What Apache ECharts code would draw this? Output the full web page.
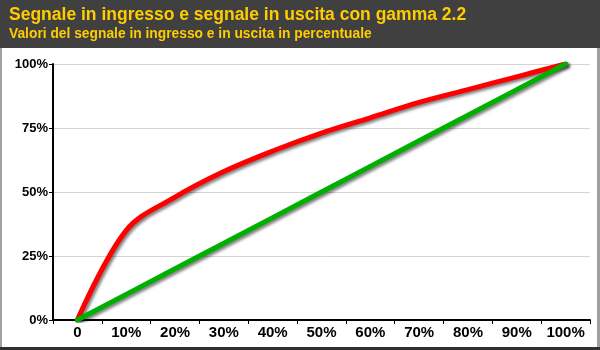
<!DOCTYPE html>
<html>
<head>
<meta charset="utf-8">
<style>
  html, body { margin: 0; padding: 0; background: #ffffff; }
  #chart { width: 600px; height: 350px; }
</style>
<script src="https://cdn.jsdelivr.net/npm/echarts@6/dist/echarts.min.js"></script>
</head>
<body>
<div id="chart"></div>
<script>
// Input signal steps (x axis) and output values in percent
const inputLabels = ['0', '10%', '20%', '30%', '40%', '50%', '60%', '70%', '80%', '90%', '100%'];
const gammaOutput = [0, 35, 48, 58, 66, 73, 79, 85, 90, 95, 100];
const linearOutput = [0, 10, 20, 30, 40, 50, 60, 70, 80, 90, 100];
const yTickValues = [0, 25, 50, 75, 100];

const FONT = '"Liberation Sans", Arial, sans-serif';

const chart = echarts.init(document.getElementById('chart'), null, { renderer: 'canvas' });

const lineShadow = {
  shadowColor: 'rgba(0,0,0,0.5)',
  shadowBlur: 3,
  shadowOffsetX: 2,
  shadowOffsetY: 2
};

chart.setOption({
  backgroundColor: '#ffffff',
  animation: false,
  title: {
    text: 'Segnale in ingresso e segnale in uscita con gamma 2.2',
    subtext: 'Valori del segnale in ingresso e in uscita in percentuale',
    left: 9,
    top: 6,
    padding: 0,
    itemGap: 3,
    textStyle: { color: '#ffcc00', fontFamily: FONT, fontWeight: 'bold', fontSize: 17.5 },
    subtextStyle: { color: '#ffcc00', fontFamily: FONT, fontWeight: 'bold', fontSize: 13.8 }
  },
  graphic: [
    // header band
    { type: 'rect', z: -10, shape: { x: 0, y: 0, width: 600, height: 48 }, style: { fill: '#404040' } },
    // frame around the plot panel
    { type: 'rect', z: -10, shape: { x: 0, y: 48, width: 2, height: 302 }, style: { fill: '#a0a0a0' } },
    { type: 'rect', z: -10, shape: { x: 597, y: 48, width: 3, height: 302 }, style: { fill: '#a0a0a0' } },
    { type: 'rect', z: -10, shape: { x: 0, y: 347, width: 600, height: 3 }, style: { fill: '#303030' } }
  ],
  grid: { left: 53, right: 10, top: 64, bottom: 30, containLabel: false },
  xAxis: {
    type: 'category',
    data: inputLabels,
    boundaryGap: true,
    axisLine: { show: true, lineStyle: { color: '#000000', width: 2 } },
    axisTick: { show: true, length: 4, lineStyle: { color: '#000000', width: 1 }, alignWithLabel: false, interval: 0 },
    axisLabel: { color: '#000000', fontFamily: FONT, fontWeight: 'bold', fontSize: 15, margin: 5, interval: 0, hideOverlap: false },
    splitLine: { show: false }
  },
  yAxis: {
    type: 'value',
    min: yTickValues[0],
    max: yTickValues[yTickValues.length - 1],
    interval: 25,
    axisLine: { show: true, lineStyle: { color: '#000000', width: 2 } },
    axisTick: { show: true, length: 4, lineStyle: { color: '#000000', width: 1 } },
    axisLabel: { color: '#000000', fontFamily: FONT, fontWeight: 'bold', fontSize: 13, margin: 5, formatter: '{value}%' },
    splitLine: { show: true, lineStyle: { color: '#d4d4d4', width: 1 } }
  },
  series: [
    {
      name: 'Uscita gamma 2.2',
      type: 'line',
      data: gammaOutput,
      smooth: 0.35,
      symbol: 'none',
      lineStyle: Object.assign({ color: '#ff0000', width: 5, cap: 'round', join: 'round' }, lineShadow),
      z: 3
    },
    {
      name: 'Ingresso',
      type: 'line',
      data: linearOutput,
      symbol: 'none',
      lineStyle: Object.assign({ color: '#00b000', width: 5, cap: 'round', join: 'round' }, lineShadow),
      z: 4
    }
  ]
});
</script>
</body>
</html>
